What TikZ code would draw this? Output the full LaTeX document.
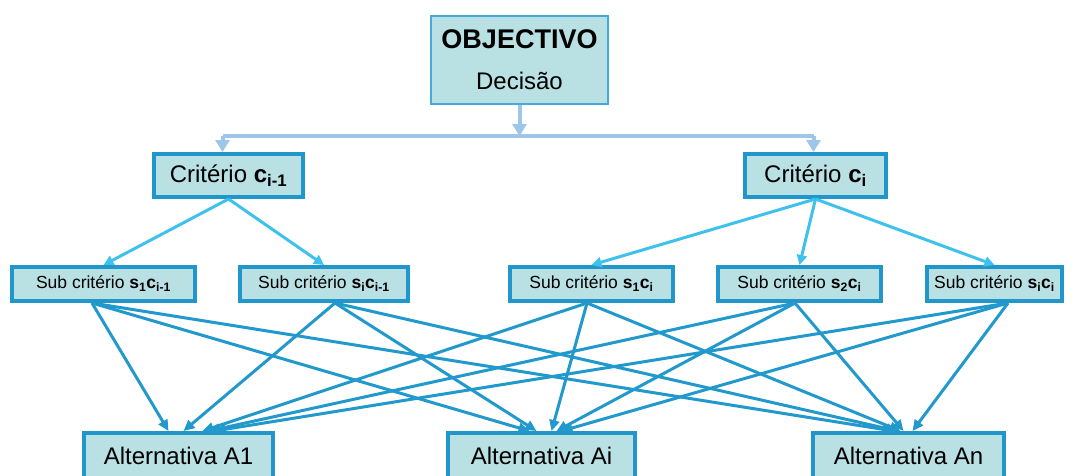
\documentclass[tikz,border=0pt]{standalone}
\usepackage{fontspec}
\setmainfont{Liberation Sans}
\usetikzlibrary{arrows.meta}
\definecolor{boxfill}{HTML}{B9E0E3}
\definecolor{boxline}{HTML}{2196CB}
\definecolor{objline}{HTML}{44AADC}
\definecolor{busblue}{HTML}{9DC6EA}
\definecolor{critblue}{HTML}{3EC1EC}
\definecolor{altblue}{HTML}{2299CC}
\tikzset{
  box/.style={draw=boxline,line width=4pt,fill=boxfill,inner sep=0pt,align=center},
  objbox/.style={box,draw=objline,line width=1.5pt},
  critbox/.style={box,font=\fontsize{24}{28}\selectfont},
  subbox/.style={box,font=\fontsize{17.5}{21}\selectfont,minimum height=34pt},
  altbox/.style={box,font=\fontsize{24}{28}\selectfont,minimum height=46pt},
  busline/.style={busblue,line width=4pt},
  busarrow/.style={busline,-{Triangle[length=12pt,width=14pt]}},
  critarrow/.style={critblue,line width=3pt,-{Triangle[length=10pt,width=10pt]}},
  altarrow/.style={altblue,line width=3pt,-{Triangle[length=11pt,width=10pt]}}
}
\begin{document}
\begin{tikzpicture}[x=1pt,y=-1pt]
\useasboundingbox (0,0) rectangle (1075,475);
% goal
\node[objbox,minimum width=177pt,minimum height=88pt] (obj) at (519.5,60)
  {{\fontsize{27}{30}\selectfont\bfseries OBJECTIVO}\\[22pt]{\fontsize{24}{26}\selectfont Decisão}};
% criteria
\node[critbox,minimum width=149pt,minimum height=43pt] (c1) at (228.5,175.5) {Critério \textbf{c\textsubscript{i-1}}};
\node[critbox,minimum width=141pt,minimum height=43pt] (c2) at (815.5,175.5) {Critério \textbf{c\textsubscript{i}}};
% sub criteria
\node[subbox,minimum width=183pt] (s1) at (103.5,284) {Sub critério \textbf{s\textsubscript{1}c\textsubscript{i-1}}};
\node[subbox,minimum width=168pt] (s2) at (324,284) {Sub critério \textbf{s\textsubscript{i}c\textsubscript{i-1}}};
\node[subbox,minimum width=163pt] (s3) at (591.5,284) {Sub critério \textbf{s\textsubscript{1}c\textsubscript{i}}};
\node[subbox,minimum width=163pt] (s4) at (799.5,284) {Sub critério \textbf{s\textsubscript{2}c\textsubscript{i}}};
\node[subbox,minimum width=135pt] (s5) at (994.5,284) {Sub critério \textbf{s\textsubscript{i}c\textsubscript{i}}};
% alternatives
\node[altbox,minimum width=189pt] (a1) at (178.5,456) {Alternativa A1};
\node[altbox,minimum width=187pt] (ai) at (541.5,456) {Alternativa Ai};
\node[altbox,minimum width=191pt] (an) at (908.5,456) {Alternativa An};
% bus
\coordinate (bus) at (519.5,136);
\draw[busarrow] (obj.south) -- (bus);
\draw[busline] ([xshift=-6pt]c1.north |- bus) -- ([xshift=-2pt]c2.north |- bus);
\draw[busarrow] ([xshift=-6pt]c1.north |- bus) -- ([xshift=-6pt]c1.north);
\draw[busarrow] ([xshift=-2pt]c2.north |- bus) -- ([xshift=-2pt]c2.north);
% criteria to sub criteria
\foreach \s in {s1,s2} \draw[critarrow] (c1.south) -- (\s.north);
\foreach \s in {s3,s4,s5} \draw[critarrow] (c2.south) -- (\s.north);
% sub criteria to alternatives
\foreach \s/\so/\a/\ao in {s1/-11.5/a1/-10, s2/11/a1/5, s3/-4.5/a1/24, s4/-4.5/a1/30, s5/13.5/a1/36,
    s1/-11.5/ai/-12, s2/11/ai/-5, s3/-4.5/ai/10, s4/-4.5/ai/15, s5/13.5/ai/20,
    s1/-11.5/an/-15, s2/11/an/-11, s3/-4.5/an/-8, s4/-4.5/an/-5, s5/13.5/an/4}
  \draw[altarrow] ([xshift=\so pt]\s.south) -- ([xshift=\ao pt]\a.north);
\end{tikzpicture}
\end{document}
